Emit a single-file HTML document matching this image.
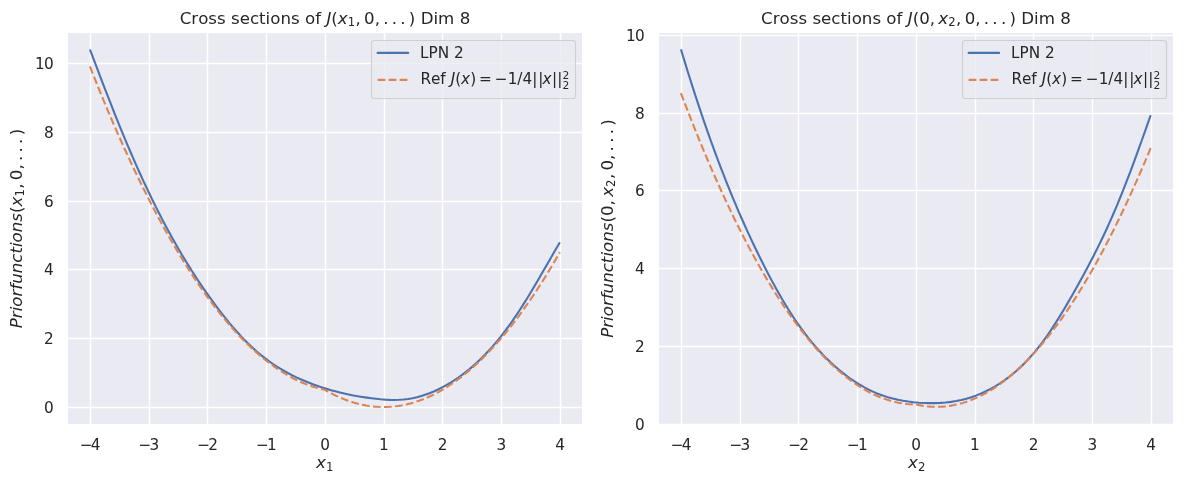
<!DOCTYPE html>
<html lang="en">
<head>
<meta charset="utf-8">
<title>Cross sections of J - LPN 2 vs reference</title>
<style>
html,body{margin:0;padding:0;background:#ffffff;}
body{width:1184px;height:484px;overflow:hidden;}
svg{display:block;}
svg text{font-kerning:none;white-space:pre;}
</style>
</head>
<body>
<svg width="1184" height="484" viewBox="0 0 1184 484" font-family="'DejaVu Sans','Liberation Sans',sans-serif" fill="#262626">
<rect x="0" y="0" width="1184" height="484" fill="#ffffff"/>
<clipPath id="clip0"><rect x="68" y="33" width="514" height="391"/></clipPath>
<rect x="68" y="33" width="514" height="391" fill="#eaeaf2"/>
<g clip-path="url(#clip0)" stroke="#ffffff" stroke-width="1.389" stroke-linecap="round" fill="none">
<path d="M90.5 424 V33"/>
<path d="M149.5 424 V33"/>
<path d="M207.5 424 V33"/>
<path d="M266.5 424 V33"/>
<path d="M325.5 424 V33"/>
<path d="M384.5 424 V33"/>
<path d="M442.5 424 V33"/>
<path d="M501.5 424 V33"/>
<path d="M560.5 424 V33"/>
<path d="M68 407.5 H582"/>
<path d="M68 338.5 H582"/>
<path d="M68 269.5 H582"/>
<path d="M68 201.5 H582"/>
<path d="M68 132.5 H582"/>
<path d="M68 63.5 H582"/>
</g>
<g clip-path="url(#clip0)" fill="none" stroke-width="2.083">
<path d="M90.30 50.30 L91.91 54.58 L93.52 58.87 L95.14 63.15 L96.76 67.44 L98.39 71.73 L100.02 76.01 L101.66 80.30 L103.30 84.58 L104.95 88.87 L106.61 93.15 L108.27 97.43 L109.94 101.71 L111.62 105.98 L113.31 110.25 L115.01 114.52 L116.72 118.79 L118.44 123.05 L120.17 127.31 L121.91 131.56 L123.67 135.81 L125.44 140.05 L127.22 144.29 L129.01 148.52 L130.82 152.74 L132.64 156.96 L134.48 161.17 L136.33 165.37 L138.20 169.56 L140.09 173.75 L142.00 177.92 L143.92 182.09 L145.86 186.25 L147.82 190.40 L149.80 194.54 L151.80 198.66 L153.82 202.78 L155.86 206.89 L157.92 210.98 L160.00 215.07 L162.11 219.14 L164.24 223.19 L166.39 227.24 L168.57 231.27 L170.77 235.29 L173.00 239.29 L175.25 243.28 L177.53 247.26 L179.84 251.22 L182.17 255.16 L184.53 259.09 L186.92 263.00 L189.34 266.89 L191.78 270.77 L194.26 274.63 L196.77 278.48 L199.30 282.30 L201.87 286.11 L204.47 289.90 L207.11 293.67 L209.77 297.42 L212.47 301.15 L215.21 304.86 L217.97 308.55 L220.78 312.22 L223.62 315.86 L226.50 319.47 L229.43 323.04 L232.40 326.57 L235.42 330.05 L238.49 333.48 L241.61 336.86 L244.79 340.17 L248.04 343.41 L251.34 346.58 L254.71 349.67 L258.14 352.68 L261.65 355.59 L265.23 358.42 L268.88 361.14 L272.62 363.76 L276.43 366.28 L280.31 368.69 L284.26 371.00 L288.27 373.21 L292.34 375.32 L296.46 377.33 L300.64 379.25 L304.86 381.07 L309.12 382.80 L313.42 384.44 L317.76 385.99 L322.12 387.46 L326.51 388.84 L330.91 390.13 L335.34 391.34 L339.79 392.47 L344.25 393.52 L348.74 394.50 L353.24 395.40 L357.75 396.22 L362.29 396.97 L366.84 397.65 L371.41 398.27 L375.99 398.81 L380.58 399.28 L385.18 399.63 L389.77 399.86 L394.36 399.94 L398.93 399.83 L403.49 399.51 L408.02 398.97 L412.52 398.19 L416.98 397.19 L421.40 395.97 L425.77 394.56 L430.09 392.96 L434.34 391.18 L438.54 389.24 L442.66 387.16 L446.71 384.94 L450.68 382.60 L454.56 380.14 L458.35 377.58 L462.06 374.93 L465.68 372.17 L469.23 369.33 L472.70 366.39 L476.09 363.37 L479.41 360.27 L482.66 357.09 L485.84 353.83 L488.96 350.50 L492.01 347.11 L495.00 343.65 L497.94 340.13 L500.82 336.56 L503.64 332.93 L506.42 329.25 L509.14 325.53 L511.82 321.77 L514.45 317.96 L517.05 314.12 L519.60 310.25 L522.12 306.35 L524.60 302.43 L527.06 298.49 L529.48 294.53 L531.88 290.55 L534.25 286.57 L536.60 282.58 L538.93 278.58 L541.24 274.59 L543.53 270.60 L545.82 266.62 L548.09 262.65 L550.36 258.70 L552.62 254.77 L554.88 250.85 L557.14 246.97 L559.40 243.11" stroke="#4c72b0" stroke-linecap="round" stroke-linejoin="round"/>
<path d="M89.90 66.44 L92.84 73.88 L95.77 81.23 L98.71 88.50 L101.65 95.68 L104.59 102.78 L107.52 109.78 L110.46 116.71 L113.40 123.54 L116.34 130.30 L119.27 136.96 L122.21 143.54 L125.15 150.03 L128.09 156.44 L131.02 162.76 L133.96 169.00 L136.90 175.14 L139.84 181.21 L142.77 187.18 L145.71 193.08 L148.65 198.88 L151.59 204.60 L154.52 210.23 L157.46 215.78 L160.40 221.24 L163.34 226.62 L166.27 231.90 L169.21 237.11 L172.15 242.22 L175.09 247.26 L178.02 252.20 L180.96 257.06 L183.90 261.83 L186.84 266.52 L189.77 271.12 L192.71 275.63 L195.65 280.06 L198.59 284.41 L201.52 288.66 L204.46 292.84 L207.40 296.92 L210.34 300.92 L213.27 304.83 L216.21 308.66 L219.15 312.40 L222.09 316.06 L225.02 319.62 L227.96 323.11 L230.90 326.50 L233.84 329.82 L236.77 333.04 L239.71 336.18 L242.65 339.23 L245.59 342.20 L248.52 345.08 L251.46 347.88 L254.40 350.58 L257.34 353.21 L260.27 355.74 L263.21 358.19 L266.15 360.56 L269.09 362.84 L272.02 365.03 L274.96 367.14 L277.90 369.16 L280.84 371.10 L283.77 372.94 L286.71 374.71 L289.65 376.38 L292.59 377.98 L295.52 379.48 L298.46 380.90 L301.40 382.23 L304.34 383.48 L307.27 384.64 L310.21 385.71 L313.15 386.70 L316.09 387.61 L319.02 388.42 L321.96 389.16 L324.90 389.80 L327.84 391.48 L330.78 393.07 L333.71 394.57 L336.65 395.99 L339.59 397.32 L342.52 398.57 L345.46 399.73 L348.40 400.81 L351.34 401.80 L354.27 402.70 L357.21 403.52 L360.15 404.25 L363.09 404.89 L366.02 405.45 L368.96 405.93 L371.90 406.31 L374.84 406.61 L377.77 406.83 L380.71 406.96 L383.65 407.00 L386.59 406.96 L389.52 406.83 L392.46 406.61 L395.40 406.31 L398.34 405.93 L401.28 405.45 L404.21 404.89 L407.15 404.25 L410.09 403.52 L413.02 402.70 L415.96 401.80 L418.90 400.81 L421.84 399.73 L424.77 398.57 L427.71 397.32 L430.65 395.99 L433.59 394.57 L436.52 393.07 L439.46 391.48 L442.40 389.80 L445.34 388.04 L448.27 386.19 L451.21 384.25 L454.15 382.23 L457.09 380.12 L460.02 377.93 L462.96 375.65 L465.90 373.29 L468.84 370.84 L471.77 368.30 L474.71 365.68 L477.65 362.97 L480.59 360.17 L483.52 357.29 L486.46 354.32 L489.40 351.27 L492.34 348.13 L495.27 344.91 L498.21 341.60 L501.15 338.20 L504.09 334.72 L507.02 331.15 L509.96 327.49 L512.90 323.75 L515.84 319.93 L518.77 316.01 L521.71 312.01 L524.65 307.93 L527.59 303.76 L530.52 299.50 L533.46 295.16 L536.40 290.73 L539.34 286.21 L542.27 281.61 L545.21 276.93 L548.15 272.15 L551.09 267.29 L554.02 262.35 L556.96 257.32 L559.90 252.20" stroke="#dd8452" stroke-dasharray="7.708 3.333" stroke-linejoin="round"/>
</g>
<text x="90.00" y="449.50" font-size="15.278" text-anchor="middle"><tspan letter-spacing="-1.8">−</tspan>4</text>
<text x="148.75" y="449.50" font-size="15.278" text-anchor="middle"><tspan letter-spacing="-1.8">−</tspan>3</text>
<text x="207.50" y="449.50" font-size="15.278" text-anchor="middle"><tspan letter-spacing="-1.8">−</tspan>2</text>
<text x="266.25" y="449.50" font-size="15.278" text-anchor="middle"><tspan letter-spacing="-1.8">−</tspan>1</text>
<text x="325.00" y="449.50" font-size="15.278" text-anchor="middle">0</text>
<text x="383.75" y="449.50" font-size="15.278" text-anchor="middle">1</text>
<text x="442.50" y="449.50" font-size="15.278" text-anchor="middle">2</text>
<text x="501.25" y="449.50" font-size="15.278" text-anchor="middle">3</text>
<text x="560.00" y="449.50" font-size="15.278" text-anchor="middle">4</text>
<text x="53.80" y="412.65" font-size="15.278" text-anchor="end">0</text>
<text x="53.80" y="343.65" font-size="15.278" text-anchor="end">2</text>
<text x="53.80" y="274.65" font-size="15.278" text-anchor="end">4</text>
<text x="53.80" y="206.65" font-size="15.278" text-anchor="end">6</text>
<text x="53.80" y="137.65" font-size="15.278" text-anchor="end">8</text>
<text x="53.80" y="68.65" font-size="15.278" text-anchor="end"><tspan letter-spacing="-0.6">1</tspan>0</text>
<text font-size="16.667"><tspan x="316.08" y="468.40" font-style="italic">x</tspan><tspan x="325.94" y="470.73" font-size="11.667">1</tspan></text>
<rect x="371.50" y="40.50" width="204.00" height="58.00" rx="3.06" ry="3.06" fill="#eaeaf2" fill-opacity="0.8" stroke="#cccccc" stroke-opacity="0.9" stroke-width="1.1"/>
<path d="M377.61 52.90 H408.17" stroke="#4c72b0" stroke-width="2.083" stroke-linecap="round" fill="none"/>
<path d="M377.61 79.90 H408.17" stroke="#dd8452" stroke-width="2.083" stroke-dasharray="7.708 3.333" fill="none"/>
<text x="420.09" y="57.80" font-size="15.278">LPN 2</text>
<text font-size="15.278"><tspan x="420.39" y="84.30">Ref </tspan><tspan x="450.64" y="84.30" font-style="italic">J</tspan><tspan x="455.14" y="84.30">(</tspan><tspan x="461.10" y="84.30" font-style="italic">x</tspan><tspan x="470.15" y="84.30">)</tspan><tspan x="479.08" y="84.30">=</tspan><tspan x="494.86" y="84.30">−</tspan><tspan x="507.66" y="84.30">1/4|</tspan><tspan x="538.20" y="84.30">|</tspan><tspan x="542.54" y="84.30" font-style="italic">x</tspan><tspan x="551.99" y="84.30">|</tspan><tspan x="557.23" y="84.30">|</tspan><tspan x="562.53" y="78.95" font-size="10.694">2</tspan><tspan x="562.53" y="89.07" font-size="10.694">2</tspan></text>
<text font-size="16.667"><tspan x="179.67" y="24.40">Cross sections of </tspan><tspan x="326.39" y="24.40" font-style="italic">J</tspan><tspan x="331.30" y="24.40">(</tspan><tspan x="337.80" y="24.40" font-style="italic">x</tspan><tspan x="347.67" y="26.23" font-size="11.667">1</tspan><tspan x="355.55" y="24.40">,</tspan><tspan x="364.09" y="24.40">0</tspan><tspan x="374.70" y="24.40">,</tspan><tspan x="383.24" y="24.40">.</tspan><tspan x="391.78" y="24.40">.</tspan><tspan x="400.33" y="24.40">.</tspan><tspan x="408.87" y="24.40">) Dim 8</tspan></text>
<text font-size="16.667" transform="translate(22.12 328.25) rotate(-90)"><tspan x="0" y="0" font-style="italic">Priorfunctions</tspan><tspan x="115.35" y="0">(</tspan><tspan x="121.85" y="0" font-style="italic">x</tspan><tspan x="131.71" y="1.83" font-size="11.667">1</tspan><tspan x="139.59" y="0">,</tspan><tspan x="148.14" y="0">0</tspan><tspan x="158.74" y="0">,</tspan><tspan x="167.29" y="0">.</tspan><tspan x="175.83" y="0">.</tspan><tspan x="184.38" y="0">.</tspan><tspan x="192.92" y="0">)</tspan></text>
<clipPath id="clip1"><rect x="659" y="33" width="514" height="391"/></clipPath>
<rect x="659" y="33" width="514" height="391" fill="#eaeaf2"/>
<g clip-path="url(#clip1)" stroke="#ffffff" stroke-width="1.389" stroke-linecap="round" fill="none">
<path d="M681.5 424 V33"/>
<path d="M740.5 424 V33"/>
<path d="M798.5 424 V33"/>
<path d="M857.5 424 V33"/>
<path d="M916.5 424 V33"/>
<path d="M975.5 424 V33"/>
<path d="M1033.5 424 V33"/>
<path d="M1092.5 424 V33"/>
<path d="M1151.5 424 V33"/>
<path d="M659 424.5 H1173"/>
<path d="M659 346.5 H1173"/>
<path d="M659 268.5 H1173"/>
<path d="M659 190.5 H1173"/>
<path d="M659 113.5 H1173"/>
<path d="M659 35.5 H1173"/>
</g>
<g clip-path="url(#clip1)" fill="none" stroke-width="2.083">
<path d="M681.21 50.19 L682.74 55.27 L684.29 60.34 L685.84 65.41 L687.41 70.46 L688.98 75.51 L690.57 80.56 L692.17 85.59 L693.79 90.62 L695.41 95.64 L697.06 100.66 L698.71 105.66 L700.38 110.66 L702.06 115.66 L703.76 120.64 L705.48 125.62 L707.21 130.59 L708.96 135.55 L710.73 140.51 L712.51 145.46 L714.32 150.40 L716.14 155.33 L717.98 160.25 L719.84 165.17 L721.73 170.08 L723.63 174.98 L725.55 179.87 L727.50 184.75 L729.47 189.63 L731.46 194.50 L733.48 199.35 L735.52 204.21 L737.58 209.05 L739.67 213.88 L741.78 218.71 L743.92 223.53 L746.09 228.33 L748.28 233.13 L750.50 237.93 L752.75 242.71 L755.02 247.48 L757.33 252.25 L759.66 257.00 L762.02 261.75 L764.41 266.49 L766.84 271.22 L769.29 275.93 L771.79 280.63 L774.32 285.32 L776.89 289.98 L779.51 294.61 L782.17 299.21 L784.89 303.78 L787.66 308.30 L790.49 312.79 L793.37 317.22 L796.32 321.61 L799.34 325.94 L802.43 330.21 L805.58 334.42 L808.82 338.56 L812.13 342.63 L815.52 346.62 L819.00 350.54 L822.57 354.37 L826.22 358.12 L829.98 361.77 L833.82 365.33 L837.77 368.79 L841.82 372.15 L845.97 375.39 L850.22 378.50 L854.57 381.46 L859.02 384.27 L863.56 386.91 L868.20 389.37 L872.93 391.63 L877.75 393.68 L882.67 395.52 L887.68 397.13 L892.76 398.52 L897.91 399.72 L903.12 400.72 L908.37 401.54 L913.67 402.18 L919.00 402.67 L924.34 402.99 L929.69 403.14 L935.04 403.12 L940.38 402.90 L945.69 402.49 L950.95 401.87 L956.17 401.04 L961.33 399.98 L966.42 398.68 L971.43 397.15 L976.35 395.40 L981.18 393.43 L985.93 391.25 L990.58 388.87 L995.13 386.30 L999.58 383.56 L1003.93 380.63 L1008.16 377.55 L1012.29 374.31 L1016.29 370.92 L1020.18 367.39 L1023.95 363.74 L1027.60 359.96 L1031.14 356.07 L1034.58 352.08 L1037.93 347.99 L1041.18 343.81 L1044.35 339.56 L1047.44 335.23 L1050.45 330.84 L1053.40 326.39 L1056.29 321.90 L1059.12 317.36 L1061.91 312.80 L1064.64 308.22 L1067.34 303.62 L1070.01 299.02 L1072.65 294.42 L1075.27 289.81 L1077.85 285.21 L1080.41 280.60 L1082.94 275.99 L1085.44 271.37 L1087.91 266.74 L1090.35 262.10 L1092.75 257.45 L1095.13 252.78 L1097.48 248.10 L1099.79 243.41 L1102.07 238.69 L1104.32 233.95 L1106.53 229.19 L1108.71 224.41 L1110.86 219.61 L1112.97 214.78 L1115.06 209.92 L1117.11 205.05 L1119.13 200.16 L1121.13 195.26 L1123.10 190.34 L1125.04 185.41 L1126.96 180.46 L1128.86 175.51 L1130.74 170.55 L1132.60 165.58 L1134.44 160.61 L1136.26 155.64 L1138.07 150.67 L1139.86 145.70 L1141.64 140.73 L1143.41 135.77 L1145.17 130.81 L1146.92 125.86 L1148.66 120.93 L1150.40 116.00" stroke="#4c72b0" stroke-linecap="round" stroke-linejoin="round"/>
<path d="M680.90 93.08 L683.84 100.82 L686.77 108.45 L689.71 115.99 L692.65 123.44 L695.59 130.78 L698.52 138.03 L701.46 145.18 L704.40 152.24 L707.34 159.20 L710.27 166.05 L713.21 172.82 L716.15 179.48 L719.09 186.05 L722.02 192.52 L724.96 198.89 L727.90 205.17 L730.84 211.35 L733.77 217.43 L736.71 223.41 L739.65 229.30 L742.59 235.09 L745.52 240.78 L748.46 246.38 L751.40 251.87 L754.34 257.27 L757.27 262.58 L760.21 267.78 L763.15 272.89 L766.09 277.90 L769.02 282.81 L771.96 287.63 L774.90 292.35 L777.84 296.97 L780.77 301.50 L783.71 305.92 L786.65 310.25 L789.59 314.49 L792.52 318.62 L795.46 322.66 L798.40 326.60 L801.34 330.44 L804.27 334.19 L807.21 337.84 L810.15 341.39 L813.09 344.84 L816.02 348.20 L818.96 351.46 L821.90 354.62 L824.84 357.69 L827.77 360.65 L830.71 363.53 L833.65 366.30 L836.59 368.97 L839.52 371.55 L842.46 374.03 L845.40 376.42 L848.34 378.70 L851.27 380.89 L854.21 382.99 L857.15 384.98 L860.09 386.88 L863.02 388.68 L865.96 390.38 L868.90 391.99 L871.84 393.49 L874.77 394.90 L877.71 396.22 L880.65 397.43 L883.59 398.55 L886.52 399.57 L889.46 400.50 L892.40 401.33 L895.34 402.06 L898.27 402.69 L901.21 403.22 L904.15 403.66 L907.09 404.00 L910.02 404.25 L912.96 404.39 L915.90 404.44 L918.84 405.07 L921.77 405.61 L924.71 406.05 L927.65 406.39 L930.59 406.63 L933.52 406.78 L936.46 406.82 L939.40 406.78 L942.34 406.63 L945.27 406.39 L948.21 406.05 L951.15 405.61 L954.09 405.07 L957.02 404.44 L959.96 403.71 L962.90 402.88 L965.84 401.96 L968.77 400.94 L971.71 399.82 L974.65 398.60 L977.59 397.29 L980.52 395.88 L983.46 394.37 L986.40 392.76 L989.34 391.06 L992.27 389.26 L995.21 387.36 L998.15 385.37 L1001.09 383.28 L1004.02 381.09 L1006.96 378.80 L1009.90 376.42 L1012.84 373.94 L1015.77 371.36 L1018.71 368.68 L1021.65 365.91 L1024.59 363.04 L1027.53 360.07 L1030.46 357.01 L1033.40 353.84 L1036.34 350.58 L1039.28 347.23 L1042.21 343.77 L1045.15 340.22 L1048.09 336.57 L1051.03 332.83 L1053.96 328.98 L1056.90 325.04 L1059.84 321.01 L1062.78 316.87 L1065.71 312.64 L1068.65 308.31 L1071.59 303.88 L1074.53 299.36 L1077.46 294.73 L1080.40 290.02 L1083.34 285.20 L1086.28 280.29 L1089.21 275.27 L1092.15 270.17 L1095.09 264.96 L1098.03 259.66 L1100.96 254.26 L1103.90 248.76 L1106.84 243.17 L1109.78 237.47 L1112.71 231.68 L1115.65 225.80 L1118.59 219.81 L1121.53 213.73 L1124.46 207.55 L1127.40 201.28 L1130.34 194.90 L1133.28 188.43 L1136.21 181.87 L1139.15 175.20 L1142.09 168.44 L1145.03 161.58 L1147.96 154.62 L1150.90 147.57" stroke="#dd8452" stroke-dasharray="7.708 3.333" stroke-linejoin="round"/>
</g>
<text x="681.00" y="449.50" font-size="15.278" text-anchor="middle"><tspan letter-spacing="-1.8">−</tspan>4</text>
<text x="739.75" y="449.50" font-size="15.278" text-anchor="middle"><tspan letter-spacing="-1.8">−</tspan>3</text>
<text x="798.50" y="449.50" font-size="15.278" text-anchor="middle"><tspan letter-spacing="-1.8">−</tspan>2</text>
<text x="857.25" y="449.50" font-size="15.278" text-anchor="middle"><tspan letter-spacing="-1.8">−</tspan>1</text>
<text x="916.00" y="449.50" font-size="15.278" text-anchor="middle">0</text>
<text x="974.75" y="449.50" font-size="15.278" text-anchor="middle">1</text>
<text x="1033.50" y="449.50" font-size="15.278" text-anchor="middle">2</text>
<text x="1092.25" y="449.50" font-size="15.278" text-anchor="middle">3</text>
<text x="1151.00" y="449.50" font-size="15.278" text-anchor="middle">4</text>
<text x="644.80" y="429.65" font-size="15.278" text-anchor="end">0</text>
<text x="644.80" y="351.65" font-size="15.278" text-anchor="end">2</text>
<text x="644.80" y="273.65" font-size="15.278" text-anchor="end">4</text>
<text x="644.80" y="195.65" font-size="15.278" text-anchor="end">6</text>
<text x="644.80" y="118.65" font-size="15.278" text-anchor="end">8</text>
<text x="644.80" y="40.65" font-size="15.278" text-anchor="end"><tspan letter-spacing="-0.6">1</tspan>0</text>
<text font-size="16.667"><tspan x="908.08" y="468.40" font-style="italic">x</tspan><tspan x="917.94" y="470.73" font-size="11.667">2</tspan></text>
<rect x="962.50" y="40.50" width="204.00" height="58.00" rx="3.06" ry="3.06" fill="#eaeaf2" fill-opacity="0.8" stroke="#cccccc" stroke-opacity="0.9" stroke-width="1.1"/>
<path d="M968.61 52.90 H999.17" stroke="#4c72b0" stroke-width="2.083" stroke-linecap="round" fill="none"/>
<path d="M968.61 79.90 H999.17" stroke="#dd8452" stroke-width="2.083" stroke-dasharray="7.708 3.333" fill="none"/>
<text x="1011.09" y="57.80" font-size="15.278">LPN 2</text>
<text font-size="15.278"><tspan x="1011.39" y="84.30">Ref </tspan><tspan x="1041.64" y="84.30" font-style="italic">J</tspan><tspan x="1046.14" y="84.30">(</tspan><tspan x="1052.10" y="84.30" font-style="italic">x</tspan><tspan x="1061.15" y="84.30">)</tspan><tspan x="1070.08" y="84.30">=</tspan><tspan x="1085.86" y="84.30">−</tspan><tspan x="1098.66" y="84.30">1/4|</tspan><tspan x="1129.20" y="84.30">|</tspan><tspan x="1133.54" y="84.30" font-style="italic">x</tspan><tspan x="1142.99" y="84.30">|</tspan><tspan x="1148.23" y="84.30">|</tspan><tspan x="1153.53" y="78.95" font-size="10.694">2</tspan><tspan x="1153.53" y="89.07" font-size="10.694">2</tspan></text>
<text font-size="16.667"><tspan x="761.08" y="24.40">Cross sections of </tspan><tspan x="907.80" y="24.40" font-style="italic">J</tspan><tspan x="912.72" y="24.40">(0,</tspan><tspan x="938.37" y="24.40" font-style="italic">x</tspan><tspan x="948.23" y="26.23" font-size="11.667">2</tspan><tspan x="956.11" y="24.40">,</tspan><tspan x="964.66" y="24.40">0</tspan><tspan x="975.26" y="24.40">,</tspan><tspan x="983.81" y="24.40">.</tspan><tspan x="992.35" y="24.40">.</tspan><tspan x="1000.90" y="24.40">.</tspan><tspan x="1009.44" y="24.40">) Dim 8</tspan></text>
<text font-size="16.667" transform="translate(613.12 337.83) rotate(-90)"><tspan x="0" y="0" font-style="italic">Priorfunctions</tspan><tspan x="115.35" y="0">(</tspan><tspan x="121.85" y="0">0,</tspan><tspan x="141.00" y="0" font-style="italic">x</tspan><tspan x="150.86" y="1.83" font-size="11.667">2</tspan><tspan x="158.74" y="0">,</tspan><tspan x="167.29" y="0">0</tspan><tspan x="177.89" y="0">,</tspan><tspan x="186.43" y="0">.</tspan><tspan x="194.98" y="0">.</tspan><tspan x="203.52" y="0">.</tspan><tspan x="212.07" y="0">)</tspan></text>
</svg>
</body>
</html>
